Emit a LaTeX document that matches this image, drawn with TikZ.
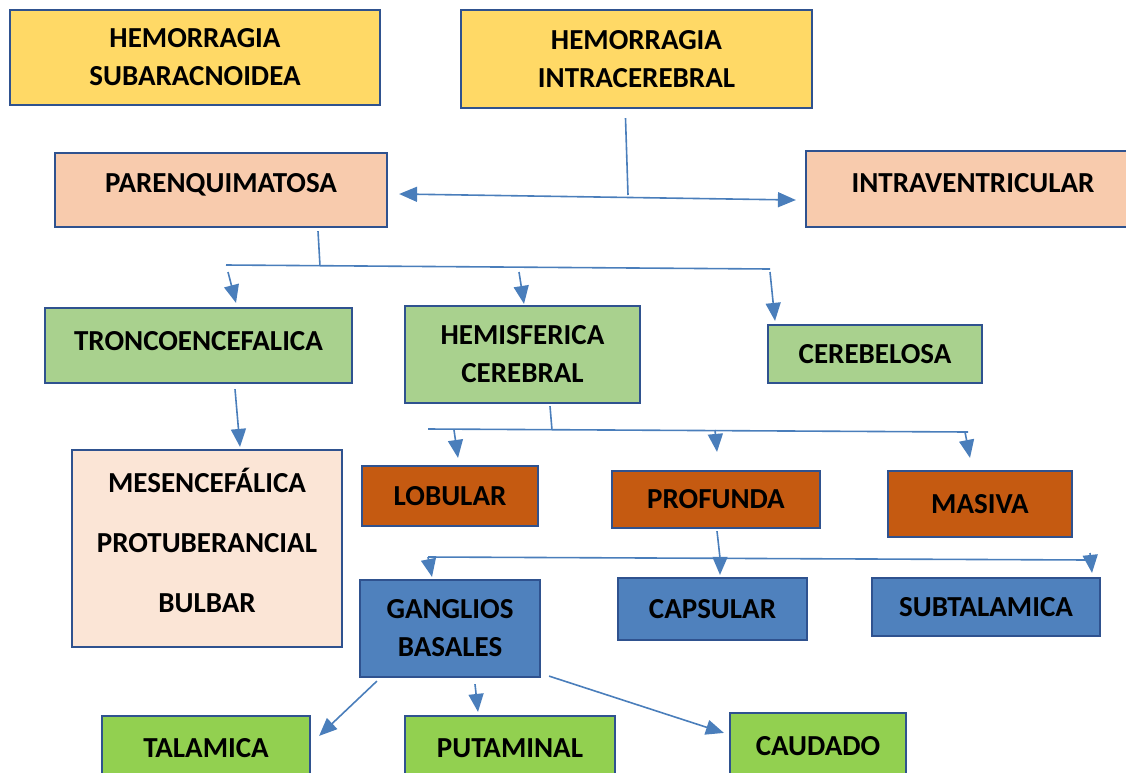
\documentclass[tikz,border=0pt]{standalone}
\usepackage{fontspec}
\setmainfont{Carlito}
\usetikzlibrary{arrows.meta}
\definecolor{boxline}{HTML}{2F528F}
\definecolor{linkblue}{HTML}{4A7EBB}
\definecolor{hemyellow}{HTML}{FFD966}
\definecolor{hemsalmon}{HTML}{F8CBAD}
\definecolor{hemgreen}{HTML}{A9D18E}
\definecolor{hempeach}{HTML}{FBE5D6}
\definecolor{hemorange}{HTML}{C55A11}
\definecolor{hemblue}{HTML}{4F81BD}
\definecolor{hemlime}{HTML}{92D050}
\tikzset{box/.style={draw=boxline,line width=2.2pt,align=center,inner sep=0pt,
  font=\fontsize{29}{38}\selectfont\bfseries}}
\tikzset{edge/.style={draw=linkblue,line width=1.6pt,-{Triangle[length=18pt,width=15pt]}}}
\tikzset{biedge/.style={draw=linkblue,line width=1.6pt,{Triangle[length=18pt,width=15pt]}-{Triangle[length=18pt,width=15pt]}}}
\tikzset{link/.style={draw=linkblue,line width=1.6pt}}

\begin{document}
\begin{tikzpicture}[x=1pt,y=-1pt]
  \useasboundingbox (0,0) rectangle (1126,772);
  \clip (0,0) rectangle (1126,772);
  % boxes
  \node[box,fill=hemyellow,minimum width=370pt,minimum height=95pt] (hsa) at (195,57.5) {HEMORRAGIA\\SUBARACNOIDEA};
  \node[box,fill=hemyellow,minimum width=351pt,minimum height=98pt] (hic) at (636.5,59) {HEMORRAGIA\\INTRACEREBRAL};
  \node[box,fill=hemsalmon,minimum width=332pt,minimum height=74pt,text depth=14pt] (par) at (221,190) {PARENQUIMATOSA};
  \node[box,fill=hemsalmon,minimum width=334pt,minimum height=76pt,text depth=13pt] (ivt) at (973,189) {INTRAVENTRICULAR};
  \node[box,fill=hemgreen,minimum width=307pt,minimum height=75pt,text depth=10pt] (tro) at (198.5,345.5) {TRONCOENCEFALICA};
  \node[box,fill=hemgreen,minimum width=235pt,minimum height=97pt] (hem) at (522.5,354.5) {HEMISFERICA\\CEREBRAL};
  \node[box,fill=hemgreen,minimum width=214pt,minimum height=58pt] (cer) at (875,354) {CEREBELOSA};
  \node[box,fill=hempeach,minimum width=270pt,minimum height=197pt,text depth=16pt,
    font=\fontsize{29}{60}\selectfont\bfseries] (mes) at (207,548.5) {MESENCEFÁLICA\\PROTUBERANCIAL\\BULBAR};
  \node[box,fill=hemorange,minimum width=176pt,minimum height=60pt] (lob) at (450,496) {LOBULAR};
  \node[box,fill=hemorange,minimum width=208pt,minimum height=57pt] (pro) at (716,499.5) {PROFUNDA};
  \node[box,fill=hemorange,minimum width=184pt,minimum height=66pt] (mas) at (980,504) {MASIVA};
  \node[box,fill=hemblue,minimum width=180pt,minimum height=97pt] (gan) at (450,628.5) {GANGLIOS\\BASALES};
  \node[box,fill=hemblue,minimum width=189pt,minimum height=62pt] (cap) at (712.5,609) {CAPSULAR};
  \node[box,fill=hemblue,minimum width=228pt,minimum height=58pt] (sub) at (986,607) {SUBTALAMICA};
  \node[box,fill=hemlime,minimum width=208pt,minimum height=64pt] (tal) at (206,748) {TALAMICA};
  \node[box,fill=hemlime,minimum width=210pt,minimum height=64pt] (put) at (510,748) {PUTAMINAL};
  \node[box,fill=hemlime,minimum width=176pt,minimum height=66pt] (cau) at (818,746) {CAUDADO};
  % intracerebral split
  \coordinate (hicbus) at (628,195);
  \draw[link] ([xshift=-11pt,yshift=-9pt]hic.south) -- (hicbus);
  \draw[biedge] ([xshift=11pt,yshift=-4pt]par.east) -- ([xshift=-9pt,yshift=-11pt]ivt.west);
  % parenquimatosa
  \coordinate (parbus) at (320,266);
  \coordinate (parbusl) at (226,265);
  \coordinate (parbusr) at (770,269);
  \draw[link] ([xshift=97pt,yshift=-3pt]par.south) -- (parbus);
  \draw[link] (parbusl) -- (parbusr);
  \draw[edge] (228,272) -- ([xshift=37.5pt,yshift=4pt]tro.north);
  \draw[edge] (519,272) -- ([xshift=1.5pt,yshift=1pt]hem.north);
  \draw[edge] (770,272) -- ([xshift=-100pt,yshift=3pt]cer.north);
  % troncoencefalica
  \draw[edge] ([xshift=36.5pt,yshift=-5pt]tro.south) -- ([xshift=33pt,yshift=2pt]mes.north);
  % hemisferica
  \coordinate (hembus) at (552,430);
  \coordinate (hembusl) at (428,429);
  \coordinate (hembusr) at (968,432);
  \draw[link] ([xshift=27.5pt,yshift=-2pt]hem.south) -- (hembus);
  \draw[link] (hembusl) -- (hembusr);
  \draw[edge] (454,430) -- ([xshift=8pt,yshift=7pt]lob.north);
  \draw[edge] (715,430) -- ([xshift=1pt,yshift=18pt]pro.north);
  \draw[edge] (965,432) -- ([xshift=-10pt,yshift=12pt]mas.north);
  % profunda
  \coordinate (probus) at (720,558);
  \coordinate (probusl) at (428,557);
  \coordinate (probusr) at (1090,560);
  \draw[link] ([xshift=1pt,yshift=-2pt]pro.south) -- (probus);
  \draw[link] (probusl) -- (probusr);
  \draw[edge] (probusl) -- ([xshift=-18pt,yshift=2pt]gan.north);
  \draw[edge] (probus) -- ([xshift=7.5pt,yshift=2pt]cap.north);
  \draw[edge] (1090,553) -- ([xshift=106pt,yshift=4pt]sub.north);
  % ganglios basales
  \draw[edge] ([xshift=18pt,yshift=-3pt]gan.south west) -- ([xshift=8pt,yshift=-21pt]tal.north east);
  \draw[edge] ([xshift=25pt,yshift=-6pt]gan.south) -- ([xshift=-32pt,yshift=3pt]put.north);
  \draw[edge] ([xshift=8pt,yshift=2pt]gan.south east) -- ([xshift=-5pt,yshift=-21pt]cau.north west);
\end{tikzpicture}
\end{document}
